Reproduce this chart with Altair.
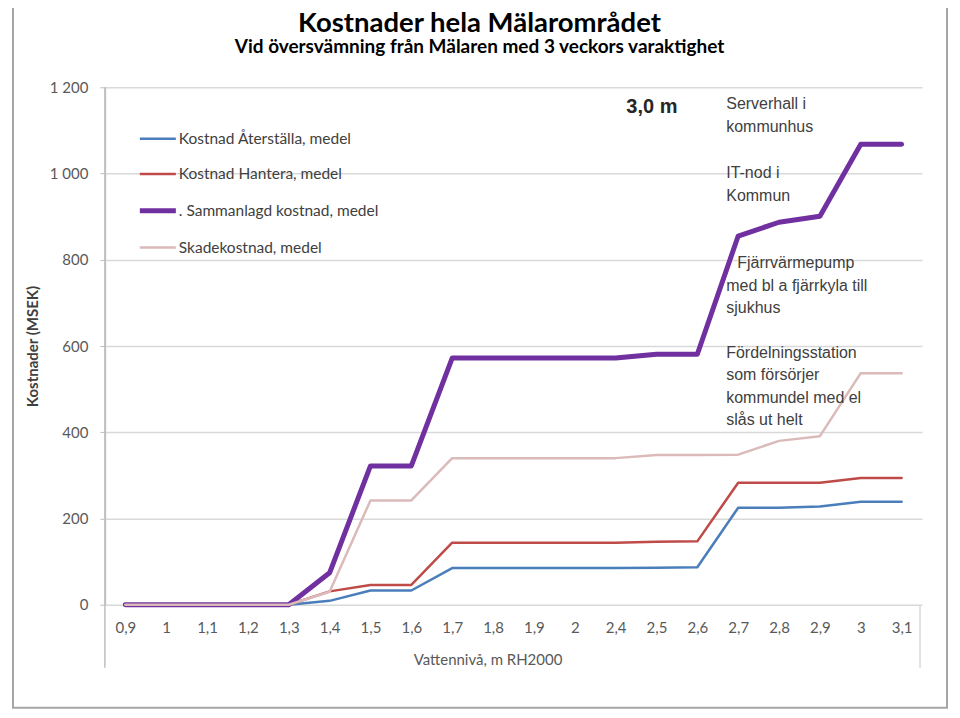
import altair as alt
import pandas as pd

levels = ["0,9", "1", "1,1", "1,2", "1,3", "1,4", "1,5", "1,6", "1,7", "1,8",
          "1,9", "2", "2,4", "2,5", "2,6", "2,7", "2,8", "2,9", "3", "3,1"]

aterstalla = [0, 0, 0, 0, 0, 9, 33, 33, 85, 85, 85, 85, 85, 86, 87, 225, 225, 228, 239, 239]
hantera = [0, 0, 0, 0, 0, 31, 46, 46, 144, 144, 144, 144, 144, 146, 147, 283, 283, 283, 294, 294]
sammanlagd = [0, 0, 0, 0, 0, 74, 322, 322, 572, 572, 572, 572, 572, 581, 581, 855, 887, 901, 1068, 1068]
skade = [0, 0, 0, 0, 0, 30, 242, 242, 340, 340, 340, 340, 340, 347, 347, 348, 380, 391, 537, 537]

series_names = ["Kostnad Återställa, medel", "Kostnad Hantera, medel",
                ". Sammanlagd kostnad, medel", "Skadekostnad, medel"]
series_values = [aterstalla, hantera, sammanlagd, skade]
series_colors = ["#4a7ebb", "#be4b48", "#7030a0", "#dbbaba"]
series_widths = [2.5, 2.5, 5, 2.5]

title_text = "Kostnader hela Mälarområdet"
subtitle_text = "Vid översvämning från Mälaren med 3 veckors varaktighet"

rows = []
for name, vals in zip(series_names, series_values):
    for lv, v in zip(levels, vals):
        rows.append({"niva": lv, "kostnad": v, "serie": name})
df = pd.DataFrame(rows)

W, H = 818, 518
GRAY = "#595959"

legend_params = dict(
    orient="none", legendX=32, legendY=32, title=None,
    symbolType="stroke", symbolSize=1300, labelFont="Lato", labelFontSize=15.5,
    labelColor="#404040", rowPadding=7.3, padding=0, labelOffset=0, labelLimit=400,
)

color_scale = alt.Scale(domain=series_names, range=series_colors)
width_scale = alt.Scale(type="ordinal", domain=series_names, range=series_widths)

lines = alt.Chart(df).mark_line(strokeJoin="round", strokeCap="round").encode(
    x=alt.X("niva:N", sort=levels,
            axis=alt.Axis(title="Vattennivå, m RH2000", labelAngle=0, ticks=False,
                          domain=False, labelPadding=16, labelFont="Lato",
                          labelFontSize=15, labelColor=GRAY, titleFont="Lato",
                          titleFontSize=15, titleFontWeight="normal", titleColor=GRAY,
                          titleX=383, titleY=55, titleBaseline="middle",
                          titleAnchor="middle")),
    y=alt.Y("kostnad:Q", scale=alt.Scale(domain=[0, 1200], nice=False),
            axis=alt.Axis(title="Kostnader (MSEK)", values=list(range(0, 1201, 200)),
                          labelExpr="replace(format(datum.value, ','), ',', ' ')",
                          tickSize=5, tickColor="#bfbfbf", domainColor="#bfbfbf",
                          domainWidth=1.5, gridColor="#d9d9d9", gridWidth=1.5,
                          labelPadding=12, labelFont="Lato", labelFontSize=15,
                          labelColor=GRAY, titleFont="Lato", titleFontSize=15,
                          titleFontWeight="bold", titleColor="#404040",
                          titleX=-72, titleY=259, titleAngle=-90,
                          titleBaseline="middle", titleAnchor="middle")),
    color=alt.Color("serie:N", sort=series_names, scale=color_scale,
                    legend=alt.Legend(**legend_params)),
    strokeWidth=alt.StrokeWidth("serie:N", sort=series_names, scale=width_scale,
                                legend=alt.Legend(**legend_params)),
    order=alt.Order("serie:N"),
)

# frame decorations
left_ext = alt.Chart().mark_rule(color="#bfbfbf", strokeWidth=1.5).encode(
    x=alt.value(0), y=alt.value(0), y2=alt.value(581))
right_ext = alt.Chart().mark_rule(color="#d9d9d9", strokeWidth=1.5).encode(
    x=alt.value(816), y=alt.value(518), y2=alt.value(581))
outer = alt.Chart().mark_rect(fill=None, stroke="#a6a6a6", strokeWidth=2).encode(
    x=alt.value(-92), x2=alt.value(843), y=alt.value(-95), y2=alt.value(621))


def note(lines_txt, x, y, size=16, bold=False, color="#404040", font="Liberation Sans",
         align="left", baseline="middle"):
    return alt.Chart().mark_text(
        text=lines_txt, align=align, baseline=baseline, font=font,
        fontSize=size, fontWeight="bold" if bold else "normal", color=color,
        lineHeight=22.5,
    ).encode(x=alt.value(x), y=alt.value(y))


notes = [
    note(title_text, 375, -55, size=27.5, bold=True, color="#000000", font="Lato",
         align="center", baseline="alphabetic"),
    note(subtitle_text, 375, -34, size=19, bold=True, color="#000000", font="Lato",
         align="center", baseline="alphabetic"),
    note(["3,0 m"], 522, 20, size=20, bold=True, color="#262626"),
    note(["Serverhall i", "kommunhus"], 622, 17),
    note(["IT-nod i", "Kommun"], 622, 86),
    note(["Fjärrvärmepump"], 633, 176),
    note(["med bl a fjärrkyla till", "sjukhus"], 622, 198.5),
    note(["Fördelningsstation", "som försörjer", "kommundel med el", "slås ut helt"], 622, 266),
]

chart = alt.layer(outer, left_ext, right_ext, lines, *notes).properties(
    width=W, height=H,
    autosize=alt.AutoSizeParams(type="none"),
    padding={"left": 97, "top": 79, "right": 30, "bottom": 105},
).configure_view(stroke=None).configure_axisX(grid=False)

chart.save("out.html", embed_options={"renderer": "svg", "actions": False})
